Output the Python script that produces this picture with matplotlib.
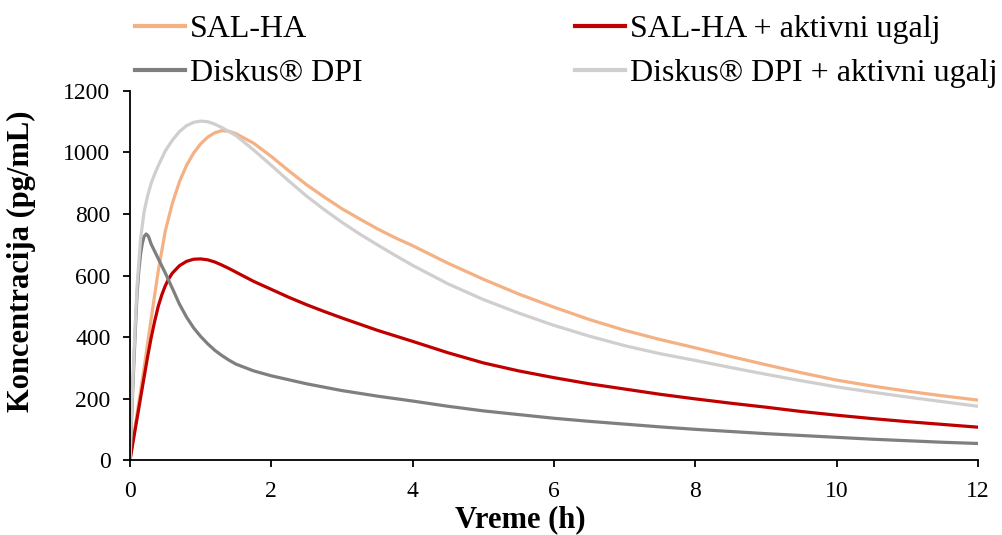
import matplotlib
matplotlib.use("Agg")
import matplotlib.pyplot as plt
from matplotlib.lines import Line2D

plt.rcParams['font.family'] = ['Liberation Serif', 'DejaVu Serif']

# --- data ---
t_sal = [0, 0.05, 0.1, 0.2, 0.3, 0.4, 0.5, 0.6, 0.7, 0.8, 0.9, 1.0, 1.1, 1.2, 1.3, 1.4, 1.5,
         1.75, 2.0, 2.25, 2.5, 2.75, 3.0, 3.25, 3.5, 3.75, 4.0, 4.5, 5, 5.5, 6, 6.5, 7, 7.5,
         8, 8.5, 9, 9.5, 10, 10.5, 11, 11.5, 12]
c_sal = [0, 75, 150, 300, 460, 615, 745, 835, 905, 958, 998, 1028, 1050, 1064, 1071, 1069, 1061,
         1030, 987, 940, 895, 855, 817, 784, 752, 723, 697, 640, 588, 540, 497, 457, 422, 392,
         365, 337, 310, 284, 260, 241, 224, 209, 195]

t_sal_ak = [0, 0.05, 0.1, 0.15, 0.2, 0.25, 0.3, 0.35, 0.4, 0.45, 0.5, 0.55, 0.6, 0.7, 0.8,
            0.9, 1.0, 1.1, 1.2, 1.3, 1.4, 1.5, 1.75, 2.0, 2.25, 2.5, 2.75, 3.0, 3.5, 4.0, 4.5,
            5, 5.5, 6, 6.5, 7, 7.5, 8, 8.5, 9, 9.5, 10, 10.5, 11, 11.5, 12]
c_sal_ak = [0, 68, 135, 203, 270, 337, 398, 452, 500, 537, 567, 590, 608, 632, 646,
            653, 654, 651, 644, 634, 623, 611, 581, 555, 529, 505, 483, 462, 422, 386, 349,
            316, 290, 268, 248, 231, 214, 199, 185, 172, 158, 146, 135, 125, 116, 107]

t_dpi = [0, 0.025, 0.05, 0.075, 0.1, 0.125, 0.15, 0.175, 0.2, 0.23, 0.26, 0.3, 0.4, 0.5, 0.6,
         0.7, 0.8, 0.9, 1.0, 1.1, 1.2, 1.3, 1.4, 1.5, 1.75, 2.0, 2.5, 3.0, 3.5, 4.0, 4.5,
         5, 5.5, 6, 6.5, 7, 7.5, 8, 8.5, 9, 9.5, 10, 10.5, 11, 11.5, 12]
c_dpi = [0, 150, 290, 420, 540, 615, 670, 705, 727, 735, 728, 702, 655, 608, 558,
         507, 465, 430, 402, 378, 357, 340, 325, 312, 290, 274, 248, 226, 208, 192, 175,
         160, 148, 136, 126, 117, 108, 100, 93, 86, 80, 74, 68, 63, 58, 54]

t_dpi_ak = [0, 0.025, 0.05, 0.075, 0.1, 0.15, 0.2, 0.25, 0.3, 0.35, 0.4, 0.5, 0.6, 0.7, 0.8,
            0.9, 1.0, 1.1, 1.2, 1.3, 1.4, 1.5, 1.75, 2.0, 2.25, 2.5, 2.75, 3.0, 3.25, 3.5,
            3.75, 4.0, 4.5, 5, 5.5, 6, 6.5, 7, 7.5, 8, 8.5, 9, 9.5, 10, 10.5, 11, 11.5, 12]
c_dpi_ak = [0, 165, 310, 445, 565, 720, 808, 860, 900, 930, 957, 1005, 1040, 1068, 1087,
            1098, 1102, 1100, 1092, 1081, 1068, 1055, 1008, 958, 907, 858, 814, 773, 735, 700,
            666, 633, 573, 522, 478, 438, 403, 372, 346, 324, 301, 279, 258, 238, 221, 205, 190, 175]

labels = ["SAL-HA", "SAL-HA + aktivni ugalj", "Diskus® DPI", "Diskus® DPI + aktivni ugalj"]
colors = ["#F4B183", "#C00000", "#7F7F7F", "#D0CECE"]
xticks = [0, 2, 4, 6, 8, 10, 12]
yticks = [0, 200, 400, 600, 800, 1000, 1200]

fig = plt.figure(figsize=(10.03, 5.35), dpi=100)
ax = fig.add_axes([0.1296, 0.140, 0.8454, 0.690])

series = [(t_sal, c_sal), (t_sal_ak, c_sal_ak), (t_dpi, c_dpi), (t_dpi_ak, c_dpi_ak)]
for (t, c), col, lab in zip(series, colors, labels):
    ax.plot(t, c, color=col, lw=2.3, label=lab, solid_capstyle='round', solid_joinstyle='round')

ax.set_xlim(0, 12)
ax.set_ylim(0, 1200)
ax.set_xticks(xticks)
ax.set_yticks(yticks)
for s in ["top", "right"]:
    ax.spines[s].set_visible(False)
for s in ["left", "bottom"]:
    ax.spines[s].set_linewidth(1.3)
    ax.spines[s].set_color("black")
ax.tick_params(axis='both', direction='out', length=5, width=1.3, labelsize=17, colors='black')
ax.tick_params(axis='y', pad=9)
ax.tick_params(axis='x', pad=10)

ax.set_xlabel("Vreme (h)", fontsize=22, fontweight='bold')
ax.set_ylabel("Koncentracija (pg/mL)", fontsize=22, fontweight='bold')
ax.xaxis.set_label_coords(0.46, -0.122)
ax.yaxis.set_label_coords(-0.111, 0.54)

handles = [Line2D([0], [0], color=c, lw=3) for c in colors]
common = dict(loc='upper left', frameon=False, fontsize=23, handlelength=1.56,
              handletextpad=0.15, labelspacing=0.44, borderaxespad=0)
leg1 = fig.legend([handles[0], handles[2]], [labels[0], labels[2]],
                  bbox_to_anchor=(0.1218, 0.996), **common)
leg2 = fig.legend([handles[1], handles[3]], [labels[1], labels[3]],
                  bbox_to_anchor=(0.5606, 0.996), **common)

fig.savefig("out.png", dpi=100)
